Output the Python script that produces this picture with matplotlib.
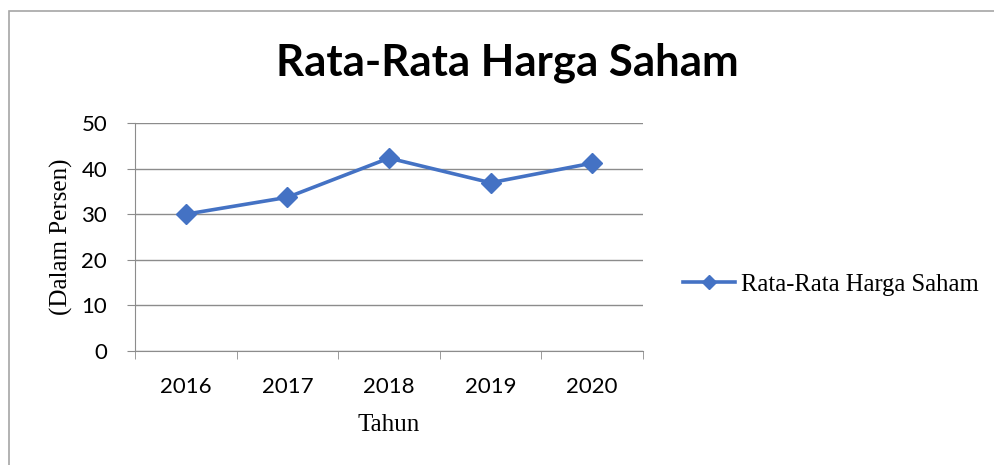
import matplotlib.pyplot as plt
from matplotlib.patches import Rectangle
import numpy as np

years = ['2016', '2017', '2018', '2019', '2020']
values = [30.0, 33.7, 42.3, 36.9, 41.2]
yticks = [0, 10, 20, 30, 40, 50]

blue = '#4472C4'
grey = '#8C8C8C'

fig = plt.figure(figsize=(9.95, 4.65), dpi=100)

# outer chart border (only top and left are inside the picture)
fig.patches.append(Rectangle((9/995, -0.1), 1.2, 1 - 11/465 + 0.1, transform=fig.transFigure,
                             fill=False, edgecolor='#A6A6A6', linewidth=1.2))

ax = fig.add_axes([135/995, 1 - 351/465, 508/995, 228/465])
x = np.arange(len(years))
ax.plot(x, values, color=blue, linewidth=2.6, marker='D', markersize=10,
        label='Rata-Rata Harga Saham')

ax.set_xlim(-0.5, len(years) - 0.5)
ax.set_ylim(0, 50)
ax.set_yticks(yticks)
ax.set_xticks(x)
ax.set_xticklabels(years)
ax.set_xticks(np.arange(-0.5, len(years), 1), minor=True)
ax.tick_params(axis='x', which='major', length=0, pad=26, labelsize=16)
ax.tick_params(axis='x', which='minor', length=6, color=grey, direction='out')
ax.tick_params(axis='y', length=6, color=grey, direction='out', pad=14, labelsize=16)
for lab in ax.get_xticklabels() + ax.get_yticklabels():
    lab.set_fontfamily('Lato')
for lab in ax.get_xticklabels():
    lab.set_va('center')

ax.grid(axis='y', color=grey, linewidth=1.0)
ax.set_axisbelow(True)
for s in ['top', 'right']:
    ax.spines[s].set_visible(False)
for s in ['left', 'bottom']:
    ax.spines[s].set_color(grey)

ax.set_xlabel('Tahun', fontfamily='Liberation Serif', fontsize=18)
ax.xaxis.set_label_coords(0.5, -(425 - 351) / 228)
ax.xaxis.label.set_va('center')
ax.set_ylabel('(Dalam Persen)', fontfamily='Liberation Serif', fontsize=18)
ax.yaxis.set_label_coords(-(135 - 61) / 508, 0.5)
ax.yaxis.label.set_va('center')

fig.text(507/995, 1 - 63/465, 'Rata-Rata Harga Saham', ha='center', va='center',
         fontfamily='Lato', fontweight='bold', fontsize=31.5)

leg = fig.legend(*ax.get_legend_handles_labels(), loc='center left',
                 bbox_to_anchor=(683/995, 1 - 285/465), frameon=False,
                 prop={'family': 'Liberation Serif', 'size': 17.7},
                 handlelength=2.1, handletextpad=0.25, borderpad=0,
                 borderaxespad=0, markerscale=0.7)

fig.savefig('out.png', dpi=100)
